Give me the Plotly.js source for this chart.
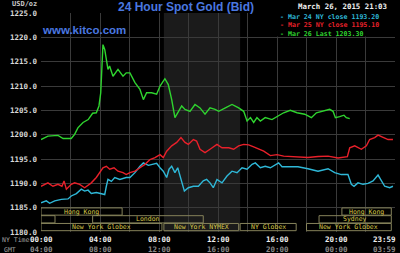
<!DOCTYPE html>
<html><head><meta charset="utf-8">
<script src="https://cdn.plot.ly/plotly-3.0.1.min.js"></script>
<style>html,body{margin:0;padding:0;background:#000;}#chart{width:400px;height:253px;}</style>
</head><body><div id="chart"></div>
<script>
// Mar 26 (green)
const tGreen = [0,0.47,1.15,1.5,2.05,2.28,2.5,2.85,3.2,3.5,3.75,3.93,4.05,4.13,4.2,4.32,4.43,4.54,4.65,4.88,5.22,5.56,5.78,6.03,6.37,6.71,6.94,7.16,7.5,7.84,8.07,8.4,8.63,8.86,9.08,9.31,9.54,9.76,10.1,10.44,10.78,11.12,11.46,11.8,12.05,12.5,12.95,13.4,13.74,13.97,14.2,14.42,14.64,14.87,15.2,15.66,16.1,16.45,16.9,17.36,17.88,18.33,18.67,19.12,19.57,19.8,19.96,20.25,20.54,20.7,20.93];
const pGreen = [1199.0,1199.7,1199.85,1199.2,1199.2,1200.05,1201.4,1202.5,1203.1,1204.4,1204.5,1205.9,1208.6,1214.1,1218.5,1217.5,1215.5,1213.4,1214.1,1212.0,1213.4,1212.0,1212.7,1212.7,1210.7,1209.3,1207.2,1208.6,1208.6,1208.3,1210.0,1211.5,1210.3,1207.2,1203.5,1204.8,1205.9,1205.2,1204.8,1206.2,1205.5,1204.2,1205.5,1205.2,1204.8,1205.5,1206.2,1205.5,1204.8,1202.8,1203.5,1202.5,1203.5,1202.8,1203.5,1203.1,1203.8,1204.5,1205.0,1204.5,1204.2,1203.5,1204.5,1204.8,1205.2,1204.8,1203.5,1203.7,1204.0,1203.5,1203.3];
// Mar 25 (red)
const tRed = [0,0.47,0.81,1.15,1.42,1.56,1.72,2.05,2.28,2.62,2.96,3.41,3.75,3.98,4.2,4.43,4.66,4.95,5.22,5.56,5.78,6.03,6.37,6.71,7.05,7.39,7.73,8.07,8.29,8.52,8.86,9.2,9.49,9.76,9.99,10.33,10.55,10.78,11.12,11.46,11.8,11.93,12.27,12.73,13.06,13.4,13.74,14.08,14.42,14.76,15.1,15.55,16.0,16.45,17.0,17.42,18.1,18.78,19.46,20.14,20.77,20.93,21.27,21.72,22.06,22.28,22.62,22.85,23.19,23.53,23.86];
const pRed = [1189.4,1190.1,1189.4,1189.8,1189.4,1190.5,1188.8,1189.8,1190.1,1189.8,1189.1,1190.1,1191.2,1192.2,1193.2,1193.5,1192.9,1193.2,1192.5,1192.2,1191.8,1192.2,1192.5,1193.2,1193.9,1194.9,1195.3,1195.9,1195.3,1196.6,1197.7,1198.4,1199.4,1198.4,1198.0,1199.0,1198.7,1197.0,1196.3,1197.0,1197.7,1198.0,1197.3,1197.3,1197.0,1197.7,1198.0,1197.9,1197.5,1197.0,1196.6,1195.7,1195.9,1195.6,1195.5,1195.5,1195.3,1195.5,1195.6,1195.2,1195.5,1197.3,1197.7,1197.0,1197.7,1199.0,1199.4,1199.9,1199.4,1199.0,1199.0];
// Mar 24 (cyan)
const tCyan = [0,0.36,0.59,0.93,1.38,1.83,2.05,2.4,2.73,2.96,3.19,3.41,3.75,4.09,4.32,4.43,4.54,4.77,5.0,5.34,5.78,6.03,6.37,6.71,6.94,7.28,7.62,7.84,8.07,8.29,8.52,8.68,8.86,9.08,9.27,9.49,9.72,9.99,10.33,10.67,11.0,11.23,11.46,11.68,11.93,12.27,12.61,12.95,13.29,13.63,13.97,14.31,14.53,14.87,15.2,15.55,15.88,16.11,16.34,16.9,17.42,18.1,18.78,19.46,19.91,20.36,20.81,21.04,21.22,21.49,21.83,22.17,22.51,22.85,23.07,23.3,23.64,23.86];
const pCyan = [1186.0,1186.4,1185.9,1186.4,1186.7,1186.8,1187.4,1187.9,1188.8,1188.4,1188.6,1187.9,1188.1,1187.9,1187.7,1189.4,1190.8,1190.4,1191.2,1190.8,1191.2,1191.2,1192.2,1193.5,1194.2,1193.7,1193.9,1194.1,1193.2,1192.5,1191.2,1192.9,1193.5,1192.2,1193.2,1190.8,1188.4,1189.1,1189.4,1189.4,1190.5,1190.8,1190.1,1189.1,1190.8,1190.1,1191.5,1192.5,1192.2,1193.2,1192.9,1193.9,1194.2,1193.2,1193.5,1193.2,1193.9,1194.2,1193.4,1193.4,1193.4,1193.0,1192.5,1193.0,1192.2,1191.8,1191.8,1189.8,1189.4,1190.1,1189.8,1190.0,1190.5,1191.7,1190.5,1189.4,1189.1,1189.4];

const legendLabels = ["- Mar 24 NY close 1193.20","- Mar 25 NY close 1195.10","- Mar 26 Last 1203.30"];
const nyTickHours = [0,4,8,12,16,20,24];
const nyTickText = ["00:00","04:00","08:00","12:00","16:00","20:00","23:59"];
const gmtTickText = ["04:00","08:00","12:00","16:00","20:00","00:00","03:59"];
const sessionNames = ["Hong Kong","","London","New York Globex","New York NYMEX","NY Globex","New York Globex","Sydney","Hong Kong"];
const sessionStart = [0,0,3.5,0,8.33,13.5,18.0,18.85,20.4];
const sessionEnd = [5.5,0.95,11.0,8.2,13.4,17.3,23.75,23.75,23.75];
const sessionRow = [0,1,1,2,2,2,2,1,0];
const pitStart = 8.33, pitEnd = 13.5;

const cCyan = '#2fb8d8', cRed = '#e8202a', cGreen = '#2fd42f';
const mono = 'DejaVu Sans Mono';

const traces = [
  {x:tCyan, y:pCyan, type:'scatter', mode:'lines', line:{color:cCyan, width:1.4}, hoverinfo:'skip'},
  {x:tRed, y:pRed, type:'scatter', mode:'lines', line:{color:cRed, width:1.4}, hoverinfo:'skip'},
  {x:tGreen, y:pGreen, type:'scatter', mode:'lines', line:{color:cGreen, width:1.4}, hoverinfo:'skip'}
];

const shapes = [
  {type:'rect', xref:'x', yref:'paper', x0:pitStart, x1:pitEnd, y0:0, y1:1, fillcolor:'#1b1b1b', line:{width:0}, layer:'below'},
  {type:'rect', xref:'x', yref:'paper', x0:15.95, x1:24, y0:0.893, y1:1.003, fillcolor:'#000', line:{width:0}, layer:'above'}
];
const annotations = [];
sessionNames.forEach((n,i)=>{
  const top = 0.11 - sessionRow[i]*0.0355;
  const bot = top - 0.033;
  shapes.push({type:'rect', xref:'x', yref:'paper', x0:sessionStart[i], x1:sessionEnd[i], y0:bot, y1:top,
    fillcolor:'rgba(0,0,0,0)', line:{color:'#85825a', width:1}, layer:'above'});
  if (n) annotations.push({xref:'x', yref:'paper', x:(sessionStart[i]+sessionEnd[i])/2, y:(top+bot)/2,
    text:n, showarrow:false, xanchor:'center', yanchor:'middle', borderpad:0, font:{family:mono, size:6.5, color:'#d8c84a'}});
});
nyTickHours.forEach((h,i)=>{
  const last = i === nyTickHours.length-1;
  annotations.push({xref:'x', yref:'paper', x:h, y:-0.0365, text:nyTickText[i], showarrow:false,
    xanchor: last ? 'right':'center', xshift: last ? 2:0, yanchor:'middle', borderpad:0, font:{family:mono, size:7.5, color:'#f0f0f0', weight:'bold'}});
  annotations.push({xref:'x', yref:'paper', x:h, y:-0.08, text:gmtTickText[i], showarrow:false,
    xanchor: last ? 'right':'center', xshift: last ? 2:0, yanchor:'middle', borderpad:0, font:{family:mono, size:7.5, color:'#8a8a8a', weight:'bold'}});
});
annotations.push({xref:'paper', yref:'paper', x:-0.112, y:-0.0365, text:'NY Time', showarrow:false, xanchor:'left', yanchor:'middle', borderpad:0, font:{family:mono, size:6.5, color:'#a0a0a0'}});
annotations.push({xref:'paper', yref:'paper', x:-0.108, y:-0.08, text:'GMT', showarrow:false, xanchor:'left', yanchor:'middle', borderpad:0, font:{family:mono, size:6.5, color:'#a0a0a0'}});
annotations.push({xref:'paper', yref:'paper', x:-0.084, y:1.043, text:'USD/oz', showarrow:false, xanchor:'left', yanchor:'middle', borderpad:0, font:{family:mono, size:7, color:'#c8c8c8', weight:'bold'}});
annotations.push({xref:'paper', yref:'paper', x:0.723, y:1.028, text:'March 26, 2015 21:03', showarrow:false, xanchor:'left', yanchor:'middle', borderpad:0, font:{family:mono, size:7.4, color:'#f0f0f0', weight:'bold'}});
annotations.push({xref:'paper', yref:'paper', x:0.0, y:0.922, text:'www.kitco.com', showarrow:false, xanchor:'left', yanchor:'middle', borderpad:0, font:{family:'Liberation Sans', size:11.5, color:'#4a78e0', weight:'bold'}});
const legColors = [cCyan, cRed, cGreen];
const legY = [0.984, 0.945, 0.906];
legendLabels.forEach((l,i)=>{
  annotations.push({xref:'paper', yref:'paper', x:0.672, y:legY[i], text:l, showarrow:false, xanchor:'left', yanchor:'middle', borderpad:0, font:{family:mono, size:6.6, color:legColors[i], weight:'bold'}});
});

const layout = {
  width:400, height:253,
  margin:{l:41, r:5, t:13, b:21, pad:0},
  paper_bgcolor:'#000', plot_bgcolor:'#000',
  showlegend:false,
  title:{text:'24 Hour Spot Gold (Bid)', x:0.465, xanchor:'center', xref:'container', y:0.972, yanchor:'middle', yref:'container',
    font:{family:'Liberation Sans', size:12, color:'#4a78e0', weight:'bold'}},
  xaxis:{range:[0,24], tickmode:'linear', tick0:0, dtick:2, showticklabels:false, ticks:'', showgrid:true, gridcolor:'#3a3a3a', gridwidth:1, zeroline:false, showline:false, fixedrange:true},
  yaxis:{range:[1180,1225], tickmode:'linear', tick0:1180, dtick:5, tickformat:'.1f', ticks:'', ticklabelstandoff:3,
    tickfont:{family:mono, size:7.5, color:'#d8d8d8', weight:'bold'}, showgrid:true, gridcolor:'#3a3a3a', gridwidth:1, zeroline:false, showline:false, fixedrange:true},
  shapes:shapes, annotations:annotations
};
Plotly.newPlot('chart', traces, layout, {staticPlot:true, displayModeBar:false});
</script></body></html>
